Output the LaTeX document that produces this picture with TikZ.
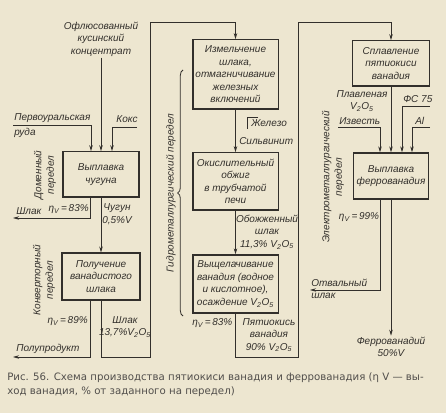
\documentclass[tikz,border=0pt]{standalone}
\usepackage{fontspec}
\setmainfont{Liberation Sans}
\newfontfamily\capfont{DejaVu Sans}
\usetikzlibrary{arrows.meta,calc,decorations.pathreplacing}
\definecolor{paper}{RGB}{237,230,208}
\definecolor{ink}{RGB}{50,47,43}

\tikzset{
  lbl/.style={inner sep=0.75pt, text=ink, font=\fontsize{7.5}{9.4}\selectfont\itshape, align=center},
  box/.style={lbl, draw=ink, line width=1pt, inner sep=1pt},
  flow/.style={draw=ink, line width=0.6pt},
  arr/.style={flow, -{Stealth[length=4.5pt,width=2.6pt]}},
}

\begin{document}
\begin{tikzpicture}[x=0.75pt,y=0.75pt,yscale=-1,xscale=1]
        \fill[paper] (0,0) rectangle (446,413);
        \useasboundingbox (0,0) rectangle (446,413);

        %Shape: Rectangle [left column]
        \node[box, minimum width=57pt, minimum height=34pt] (b1) at (101,174.5) {Выплавка\\чугуна};
        \node[box, minimum width=58.5pt, minimum height=35pt] (b2) at (101,276.5) {Получение\\ванадистого\\шлака};
        %Shape: Rectangle [middle column]
        \node[box, minimum width=64pt, minimum height=52pt] (b3) at (235.5,74.5) {Измельчение\\шлака,\\отмагничивание\\железных\\включений};
        \node[box, minimum width=64pt, minimum height=43pt] (b4) at (235.5,181.5) {Окислительный\\обжиг\\в трубчатой\\печи};
        \node[box, minimum width=64pt, minimum height=43.5pt] (b5) at (235.5,284) {Выщелачивание\\ванадия (водное\\и кислотное),\\осаждение V\textsubscript{2}O\textsubscript{5}};
        %Shape: Rectangle [right column]
        \node[box, minimum width=58pt, minimum height=34pt] (b6) at (391,63.5) {Сплавление\\пятиокиси\\ванадия};
        \node[box, minimum width=56pt, minimum height=34.5pt] (b7) at (391,176) {Выплавка\\феррованадия};

        % Text Node
        \node[lbl] (conc) at (101,39) {Офлюсованный\\кусинский\\концентрат};
        \node[lbl, anchor=south west] (ore) at (13,123.5) {Первоуральская};
        \node[lbl, anchor=north west] (ore2) at (13,126.5) {руда};
        \node[lbl, anchor=south] (coke) at (127,124) {Кокс};
        \node[lbl, rotate=90] (dom) at (45,175) {Доменный\\передел};
        \node[lbl, rotate=90] (conv) at (44,280) {Конверторный\\передел};
        \node[lbl, anchor=south west] (slag1) at (15,216) {Шлак};
        \node[lbl, anchor=east] (eta1) at (90,209) {η\textsubscript{V}\,=\,83\%};
        \node[lbl] (pig) at (117,214) {Чугун\\0,5\%V};
        \node[lbl, anchor=east] (eta2) at (89,321) {η\textsubscript{V}\,=\,89\%};
        \node[lbl] (slag2) at (125,327) {Шлак\\13,7\%V\textsubscript{2}O\textsubscript{5}};
        \node[lbl, anchor=south west] (semi) at (15,355) {Полупродукт};

        % Text Node
        \node[lbl, anchor=west] (iron) at (250,123) {Железо};
        \node[lbl, anchor=west] (sylv) at (238,141) {Сильвинит};
        \node[lbl] (roast) at (267,232) {Обожженный\\шлак\\11,3\% V\textsubscript{2}O\textsubscript{5}};
        \node[lbl, anchor=west] (eta3) at (191,323) {η\textsubscript{V}\,=\,83\%};
        \node[lbl] (pent) at (269,335) {Пятиокись\\ванадия\\90\% V\textsubscript{2}O\textsubscript{5}};
        \node[lbl, rotate=90] (hydro) at (171,193) {Гидрометаллургический передел};

        % Text Node
        \node[lbl] (fused) at (362,101) {Плавленая\\V\textsubscript{2}O\textsubscript{5}};
        \node[lbl, anchor=south west] (lime) at (338,125.5) {Известь};
        \node[lbl, anchor=south west] (fs) at (402,104) {ФС 75};
        \node[lbl, anchor=south west] (al) at (414,125.5) {Al};
        \node[lbl, rotate=90] (electro) at (333,177) {Электрометаллургический\\передел};
        \node[lbl] (eta4) at (359,217) {η\textsubscript{V}\,=\,99\%};
        \node[lbl, anchor=south west] (waste) at (310,288) {Отвальный};
        \node[lbl, anchor=north west] (waste2) at (310,292) {шлак};
        \node[lbl] (fv) at (391,347) {Феррованадий\\50\%V};

        % corners of the connectors
        \coordinate (oreL) at (13,125);
        \coordinate (cokeR) at (137,127);
        \coordinate (s1) at (13,218);
        \coordinate (s2) at (13,357);
        \coordinate (r1) at (150,357);
        \coordinate (r2) at (150,22);
        \coordinate (r3) at (298,357);
        \coordinate (r4) at (298,22);
        \coordinate (limeL) at (338,127);
        \coordinate (fsR) at (430,106);
        \coordinate (alR) at (430,127);
        \coordinate (w1) at (310,290);

        % left column
        \draw[arr] (conc) -- (b1);
        \draw[arr] (oreL) -| ($(b1.north)+(-10,0)$);
        \draw[arr] (cokeR) -| ($(b1.north)+(11,0)$);
        \draw[arr] ($(b1.south)+(-11,0)$) |- (s1);
        \draw[arr] (b1) -- (b2);
        \draw[arr] ($(b2.south)+(-11,0)$) |- (s2);
        \draw[arr] (b2.south) |- (r1) -- (r2) -| (b3.north);

        % middle column
        \draw[arr] (b3) -- (b4);
        \draw[flow] (258,117) -- (247,117) -- (247,129);
        \draw[arr] (b4) -- (b5);
        \draw[arr] (b5.south) |- (r3) -- (r4) -| (b6.north);
        \draw[flow, decorate, decoration={brace, amplitude=4pt}] (183,316) -- (183,70);

        % right column
        \draw[arr] (b6) -- (b7);
        \draw[arr] (limeL) -| ($(b7.north)+(-11,0)$);
        \draw[arr] (fsR) -| ($(b7.north)+(11,0)$);
        \draw[arr] (alR) -| ($(b7.north)+(21,0)$);
        \draw[arr] ($(b7.south)+(-11,0)$) |- (w1);
        \draw[arr] (b7) -- (fv);

        % Text Node [caption]
        \node[anchor=north west, inner sep=0pt, text=ink!85, font=\capfont\fontsize{7.65}{10.5}\selectfont, align=left] (cap) at (7,372)
          {Рис. 56. Схема производства пятиокиси ванадия и феррованадия (η V — вы-\\ход ванадия, \% от заданного на передел)};
\end{tikzpicture}
\end{document}
